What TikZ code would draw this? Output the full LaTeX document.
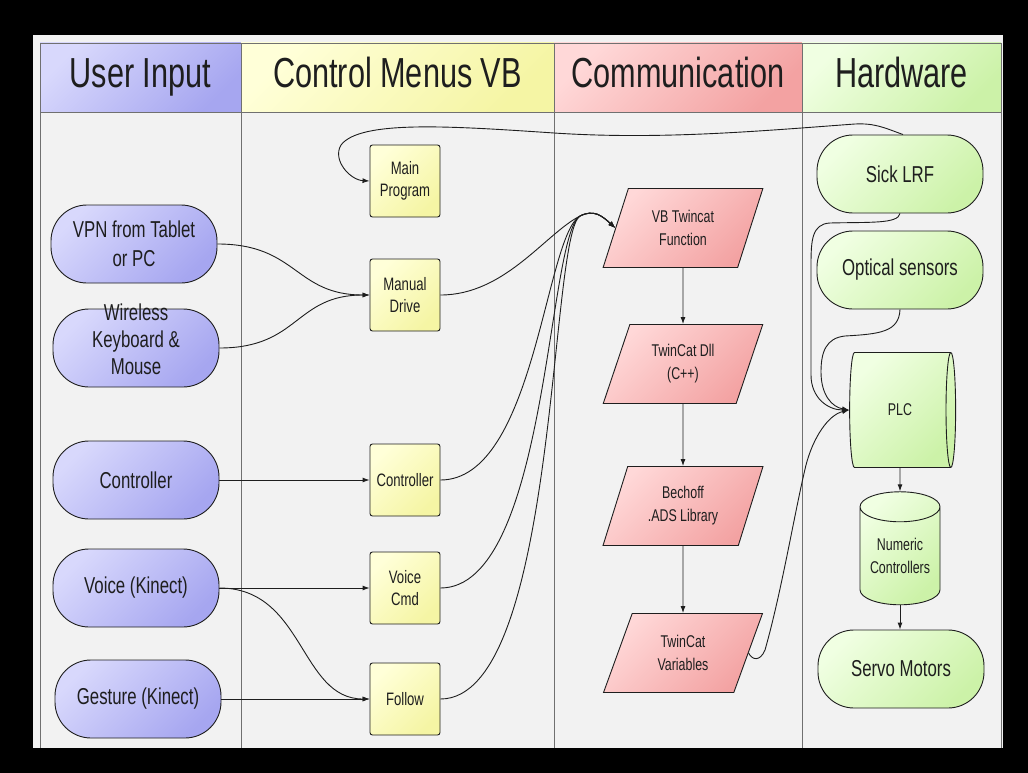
\documentclass[tikz,border=0pt]{standalone}
\usepackage{fontspec}
\setmainfont[FakeStretch=0.73]{Liberation Sans}
\usetikzlibrary{shapes.geometric,arrows.meta}
\definecolor{bg}{HTML}{F2F2F2}
\definecolor{ink}{HTML}{1E1E1E}
\definecolor{lanel}{HTML}{707070}
\definecolor{bluA}{HTML}{D8D8FC}
\definecolor{bluB}{HTML}{A6A6F0}
\definecolor{yelA}{HTML}{FFFFD8}
\definecolor{yelB}{HTML}{F5F5A4}
\definecolor{pinA}{HTML}{FFD8D8}
\definecolor{pinB}{HTML}{F3A2A2}
\definecolor{grnA}{HTML}{F0FFE2}
\definecolor{grnB}{HTML}{CCF2A8}
\newcommand{\smashlines}[1]{\smash{\begin{tabular}{@{}c@{}}#1\end{tabular}}}
\tikzset{
  grad/.style 2 args={top color=#1, bottom color=#2, shading angle=45},
  lanehead/.style={draw=lanel, line width=0.8pt, minimum height=69pt, inner sep=0pt,
    text height=30pt, text depth=9pt,
    font=\fontsize{42}{46}\selectfont, text=ink},
  pill/.style={draw=ink, line width=0.9pt, rounded corners=36pt, minimum width=166pt,
    minimum height=78pt, inner sep=0pt, align=center, font=\fontsize{23}{29}\selectfont,
    text=ink},
  menubox/.style={draw=ink, line width=0.9pt, rounded corners=2.5pt, minimum width=70pt,
    minimum height=72pt, inner sep=0pt, align=center, font=\fontsize{18}{22}\selectfont,
    text=ink, grad={yelA}{yelB}},
  para/.style={trapezium, trapezium left angle=68, trapezium right angle=112,
    trapezium stretches=true, minimum width=160pt, minimum height=79pt, inner sep=0pt,
    draw=ink, line width=0.9pt, align=center, font=\fontsize{17}{23}\selectfont,
    text=ink, grad={pinA}{pinB}},
  drum/.style={cylinder, shape border rotate=0, aspect=0.8, minimum width=115pt,
    minimum height=106pt, inner sep=0pt, draw=ink, line width=0.9pt, align=center,
    font=\fontsize{17}{21}\selectfont, text=ink, grad={grnA}{grnB}},
  can/.style={cylinder, shape border rotate=90, aspect=0.5, minimum width=80pt,
    minimum height=113pt, inner sep=0pt, draw=ink, line width=0.9pt, align=center,
    font=\fontsize{17}{23}\selectfont, text=ink, grad={grnA}{grnB}},
  arr/.style={-{Latex[length=7pt,width=5pt]}, line width=0.9pt, draw=ink},
}
\begin{document}
\begin{tikzpicture}[x=1pt,y=-1pt]
\useasboundingbox (0,0) rectangle (1028,773);
\fill[black] (0,0) rectangle (1028,773);
\fill[bg] (33,35) rectangle (1003,748);
% lane separators
\foreach \lx in {40,241,554,802,1001}{
  \draw[lanel, line width=0.8pt] (\lx,112) -- (\lx,748);
}
% headers
\node[lanehead, minimum width=201pt, grad={bluA}{bluB}] (h1) at (140.5,77.5) {User Input};
\node[lanehead, minimum width=313pt, grad={yelA}{yelB}] (h2) at (397.5,77.5) {Control Menus VB};
\node[lanehead, minimum width=248pt, grad={pinA}{pinB}] (h3) at (678,77.5) {Communication};
\node[lanehead, minimum width=199pt, grad={grnA}{grnB}] (h4) at (901.5,77.5) {Hardware};
% user input
\node[pill, grad={bluA}{bluB}] (vpn) at (134,244) {VPN from Tablet\\or PC};
\node[pill, grad={bluA}{bluB}, font=\fontsize{23}{27}\selectfont] (wkm) at (136,348) {\smashlines{Wireless\\Keyboard \&\\Mouse}};
\node[pill, grad={bluA}{bluB}] (ctl) at (136,480) {Controller};
\node[pill, grad={bluA}{bluB}] (voi) at (136,588) {Voice (Kinect)};
\node[pill, grad={bluA}{bluB}] (ges) at (138,699) {Gesture (Kinect)};
% control menus
\node[menubox] (main) at (405,181) {Main\\Program};
\node[menubox] (man) at (405,295) {Manual\\Drive};
\node[menubox] (cbox) at (405,480) {Controller};
\node[menubox] (vcmd) at (405,588) {Voice\\Cmd};
\node[menubox] (fol) at (405,699) {Follow};
% communication
\node[para] (vbt) at (683,228) {VB Twincat\\Function};
\node[para] (dll) at (683,364) {TwinCat Dll\\(C++)};
\node[para] (ads) at (683,506) {Bechoff\\.ADS Library};
\node[para] (var) at (683,653) {TwinCat\\Variables};
% hardware
\node[pill, grad={grnA}{grnB}] (sick) at (900,174) {Sick LRF};
\node[pill, grad={grnA}{grnB}] (opt) at (900,270) {Optical sensors};
\node[drum] (plc) at (900,410) {PLC};
\node[can] (num) at (900,556) {Numeric\\Controllers};
\node[pill, grad={grnA}{grnB}] (servo) at (901,669) {Servo Motors};
% connectors: user input -> menus
\draw[arr] (vpn.east) .. controls +(80,0) and +(-75,0) .. (man.west);
\draw[arr] (wkm.east) .. controls +(80,0) and +(-75,0) .. (man.west);
\draw[arr] (ctl.east) -- (cbox.west);
\draw[arr] (voi.east) -- (vcmd.west);
\draw[arr] (voi.east) .. controls +(85,0) and +(-70,0) .. (fol.west);
\draw[arr] (ges.east) -- (fol.west);
% menus -> VB Twincat
\draw[arr] (man.east) .. controls (505,295) and (545,234) .. (580,216) .. controls +(14,-7) and +(-13,-12) .. (vbt.left side);
\draw[arr] (cbox.east) .. controls (535,480) and (545,236) .. (580,216) .. controls +(14,-7) and +(-13,-12) .. (vbt.left side);
\draw[arr] (vcmd.east) .. controls (548,588) and (547,236) .. (580,216) .. controls +(14,-7) and +(-13,-12) .. (vbt.left side);
\draw[arr] (fol.east) .. controls (558,699) and (549,236) .. (580,216) .. controls +(14,-7) and +(-13,-12) .. (vbt.left side);
% communication chain
\draw[arr] (vbt) -- (dll);
\draw[arr] (dll) -- (ads);
\draw[arr] (ads) -- (var);
% Sick LRF -> Main Program
\draw[arr] ([xshift=3pt]sick.north) .. controls (885,128) and (875,123) .. (855,124)
  .. controls (760,131) and (660,140) .. (554,133)
  .. controls (450,126) and (360,120) .. (341,145)
  .. controls (332,160) and (350,180) .. (main.west);
% sensors -> PLC
\draw[arr] (sick.south) .. controls (898,224) and (870,222) .. (830,223)
  .. controls (812,224) and (811,240) .. (811,265) -- (811,375)
  .. controls (811,398) and (828,410) .. (plc.west);
\draw[arr] (opt.south) .. controls (899,332) and (880,334) .. (845,336)
  .. controls (826,338) and (821,352) .. (821,372)
  .. controls (821,395) and (832,407) .. (plc.west);
\draw[arr] (var.right side) .. controls (752,660) and (760,662) .. (765,650)
  .. controls (782,590) and (795,510) .. (806,465)
  .. controls (813,438) and (828,415) .. (plc.west);
% hardware chain
\draw[arr] (plc.south) -- (num.north);
\draw[arr] (num.south) -- (num.south |- servo.north);
\end{tikzpicture}
\end{document}
